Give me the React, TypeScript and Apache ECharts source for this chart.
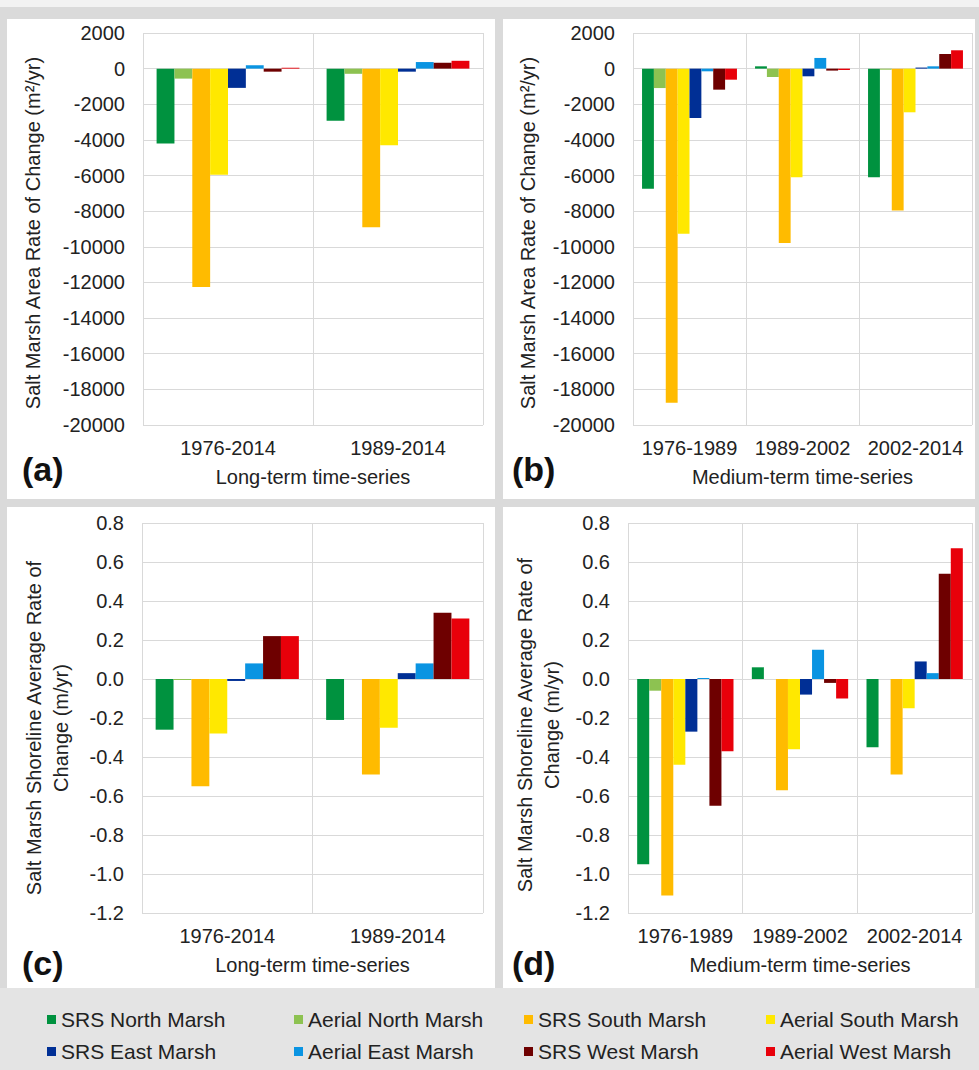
import React, { useEffect, useRef } from "react";
import * as echarts from "echarts";

const FONT = "'Liberation Sans', Arial, sans-serif";

const seriesNames = [
  "SRS North Marsh",
  "Aerial North Marsh",
  "SRS South Marsh",
  "Aerial South Marsh",
  "SRS East Marsh",
  "Aerial East Marsh",
  "SRS West Marsh",
  "Aerial West Marsh",
];
const seriesColors = ["#00923f", "#8dc251", "#ffbb00", "#ffe800", "#002f95", "#0a94e2", "#6e0000", "#e8000a"];

const longCategories = ["1976-2014", "1989-2014"];
const mediumCategories = ["1976-1989", "1989-2002", "2002-2014"];

const areaTicks = { min: -20000, max: 2000, interval: 2000 };
const shoreTicks = { min: -1.2, max: 0.8, interval: 0.2 };

// (a) area rate, long-term (values per category, in series order)
const areaLong_1976_2014 = [-4200, -560, -12250, -5960, -1080, 190, -170, 50];
const areaLong_1989_2014 = [-2920, -290, -8900, -4300, -170, 370, 330, 440];
// (b) area rate, medium-term
const areaMed_1976_1989 = [-6740, -1090, -18750, -9270, -2770, -150, -1180, -620];
const areaMed_1989_2002 = [130, -470, -9790, -6090, -430, 600, -110, -75];
const areaMed_2002_2014 = [-6100, -60, -7960, -2450, 60, 130, 820, 1030];
// (c) shoreline rate, long-term
const shoreLong_1976_2014 = [-0.26, -0.005, -0.55, -0.28, -0.01, 0.08, 0.22, 0.22];
const shoreLong_1989_2014 = [-0.21, 0, -0.49, -0.25, 0.03, 0.08, 0.34, 0.31];
// (d) shoreline rate, medium-term
const shoreMed_1976_1989 = [-0.95, -0.06, -1.11, -0.44, -0.27, 0.005, -0.65, -0.37];
const shoreMed_1989_2002 = [0.06, 0, -0.57, -0.36, -0.08, 0.15, -0.02, -0.1];
const shoreMed_2002_2014 = [-0.35, 0, -0.49, -0.15, 0.09, 0.03, 0.54, 0.67];

const panels = [
  {
    cats: longCategories,
    rows: [areaLong_1976_2014, areaLong_1989_2014],
    ticks: areaTicks,
    xName: "Long-term time-series",
    decimals: 0,
  },
  {
    cats: mediumCategories,
    rows: [areaMed_1976_1989, areaMed_1989_2002, areaMed_2002_2014],
    ticks: areaTicks,
    xName: "Medium-term time-series",
    decimals: 0,
  },
  {
    cats: longCategories,
    rows: [shoreLong_1976_2014, shoreLong_1989_2014],
    ticks: shoreTicks,
    xName: "Long-term time-series",
    decimals: 1,
  },
  {
    cats: mediumCategories,
    rows: [shoreMed_1976_1989, shoreMed_1989_2002, shoreMed_2002_2014],
    ticks: shoreTicks,
    xName: "Medium-term time-series",
    decimals: 1,
  },
];

const grids = [
  { left: 143, top: 33, width: 340, height: 392 },
  { left: 633, top: 33, width: 339, height: 392 },
  { left: 142, top: 523, width: 341, height: 390 },
  { left: 628, top: 523, width: 344, height: 390 },
];

const legendLefts = [47, 294, 524, 766];
const legendTops = [1009, 1041];

const TEXT = "#222";
const GRIDC = "#d9d9d9";

function buildOption() {
  const xAxis = panels.map((p, i) => ({
    type: "category",
    gridIndex: i,
    data: p.cats,
    position: "bottom",
    axisLine: { show: false, onZero: false },
    axisTick: { show: false },
    splitLine: { show: true, lineStyle: { color: GRIDC, width: 1 } },
    axisLabel: { fontSize: 20, color: TEXT, margin: 13, fontFamily: FONT, interval: 0, hideOverlap: false },
    name: p.xName,
    nameLocation: "middle",
    nameGap: 42,
    nameTextStyle: { fontSize: 20, color: TEXT, fontFamily: FONT },
  }));
  const yAxis = panels.map((p, i) => ({
    type: "value",
    gridIndex: i,
    min: p.ticks.min,
    max: p.ticks.max,
    interval: p.ticks.interval,
    axisLine: { show: false },
    axisTick: { show: false },
    splitLine: { show: true, lineStyle: { color: GRIDC, width: 1 } },
    axisLabel: {
      fontSize: 20,
      color: TEXT,
      margin: 18,
      fontFamily: FONT,
      formatter: (v: number) => (p.decimals ? v.toFixed(p.decimals) : String(Math.round(v))),
    },
  }));
  const series: any[] = [];
  panels.forEach((p, pi) => {
    seriesNames.forEach((name, si) => {
      series.push({
        type: "bar",
        name,
        xAxisIndex: pi,
        yAxisIndex: pi,
        data: p.rows.map((row) => row[si]),
        itemStyle: { color: seriesColors[si] },
        barGap: "0%",
        barCategoryGap: "16%",
      });
    });
  });
  const legend = seriesNames.map((name, i) => ({
    data: [name],
    left: legendLefts[i % 4],
    top: legendTops[Math.floor(i / 4)],
    icon: "rect",
    itemWidth: 9,
    itemHeight: 9,
    padding: 0,
    selectedMode: false,
    textStyle: { fontSize: 21, color: TEXT, fontFamily: FONT },
  }));

  const panelLabel = (text: string, x: number, y: number) => ({
    type: "text",
    x,
    y,
    style: {
      text,
      fontSize: 34,
      fontWeight: "bold",
      fontFamily: FONT,
      fill: "#111",
      textAlign: "left",
      textVerticalAlign: "middle",
    },
  });
  const yName = (text: string, x: number, y: number) => ({
    type: "text",
    x,
    y,
    rotation: Math.PI / 2,
    style: {
      text,
      fontSize: 20,
      lineHeight: 27,
      fontFamily: FONT,
      fill: TEXT,
      textAlign: "center",
      textVerticalAlign: "middle",
    },
  });

  return {
    animation: false,
    backgroundColor: "transparent",
    grid: grids.map((g) => ({ ...g, containLabel: false })),
    xAxis,
    yAxis,
    series,
    legend,
    graphic: [
      panelLabel("(a)", 22, 469),
      panelLabel("(b)", 512, 469),
      panelLabel("(c)", 22, 963),
      panelLabel("(d)", 512, 963),
      yName("Salt Marsh Area Rate of Change (m²/yr)", 33, 233),
      yName("Salt Marsh Area Rate of Change (m²/yr)", 528, 233),
      yName("Salt Marsh Shoreline Average Rate of\nChange (m/yr)", 47, 728),
      yName("Salt Marsh Shoreline Average Rate of\nChange (m/yr)", 538, 725),
    ],
  };
}

export default function App() {
  const ref = useRef<HTMLDivElement>(null);
  useEffect(() => {
    const chart = echarts.init(ref.current as HTMLDivElement, null, { renderer: "svg" });
    chart.setOption(buildOption() as any);
    return () => chart.dispose();
  }, []);
  const panel = (left: number, top: number, width: number, height: number) => (
    <div style={{ position: "absolute", left, top, width, height, background: "#ffffff" }} />
  );
  return (
    <div
      style={{
        position: "absolute",
        left: 0,
        top: 0,
        width: 979,
        height: 1070,
        background: "#dadada",
        overflow: "hidden",
      }}
    >
      <div style={{ position: "absolute", left: 0, top: 0, width: 979, height: 7, background: "#f2f2f2" }} />
      {panel(7, 19, 488, 480)}
      {panel(503, 19, 472, 480)}
      {panel(7, 507, 488, 481)}
      {panel(503, 507, 472, 481)}
      <div style={{ position: "absolute", left: 0, top: 988, width: 979, height: 82, background: "#e4e4e4" }} />
      <div ref={ref} style={{ position: "absolute", left: 0, top: 0, width: 979, height: 1070 }} />
    </div>
  );
}
